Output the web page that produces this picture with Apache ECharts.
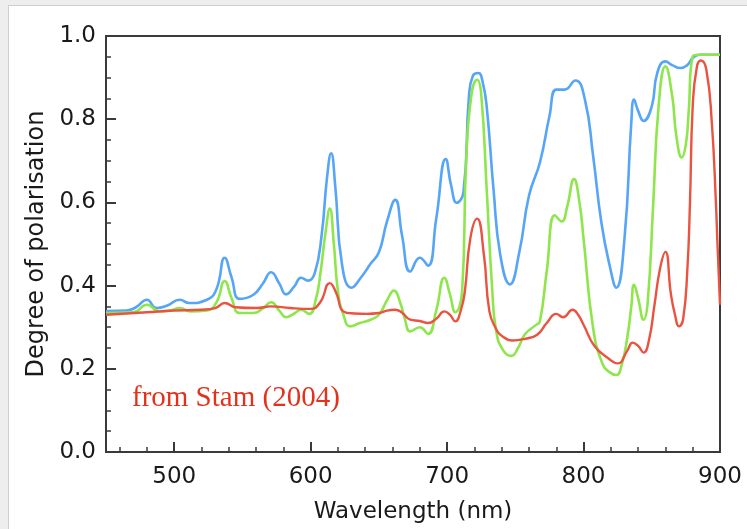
<!DOCTYPE html>
<html>
<head>
<meta charset="utf-8">
<script src="https://cdn.jsdelivr.net/npm/echarts@6/dist/echarts.min.js"></script>
<style>
  html, body { margin: 0; padding: 0; background: #eeeeee; }
  #sheet { position: absolute; left: 8px; top: 5px; width: 739px; height: 524px; background: #ffffff;
           border-left: 1px solid #cfcfcf; border-top: 1px solid #cfcfcf; }
  #chart { position: absolute; left: 0; top: 0; width: 747px; height: 529px; }
</style>
</head>
<body>
<div id="sheet"></div>
<div id="chart"></div>
<script>
// Degree of polarisation spectra (wavelength in nm)
const blueWl  = [450,465,472,480,487,495,504,511,524,531,537,542,548,558,565,571,577,582,588,593,598,603,608,612,615,618,623,630,637,644,650,656,662,667,673,680,686,692,699,703,707,712,716,719,723,726,729,734,739,746,753,760,768,775,780,786,794,801,807,813,819,824,830,835,837,840,844,850,854,860,865,871,876,880,885,900];
const blueDop = [0.339,0.340,0.348,0.366,0.346,0.352,0.366,0.358,0.366,0.392,0.467,0.420,0.368,0.378,0.405,0.432,0.405,0.379,0.398,0.419,0.412,0.430,0.520,0.660,0.718,0.640,0.450,0.395,0.420,0.453,0.480,0.555,0.606,0.520,0.434,0.467,0.448,0.560,0.704,0.640,0.599,0.625,0.855,0.905,0.911,0.890,0.831,0.632,0.473,0.403,0.482,0.616,0.696,0.807,0.871,0.871,0.893,0.847,0.712,0.553,0.450,0.395,0.513,0.792,0.847,0.820,0.796,0.831,0.911,0.939,0.930,0.923,0.930,0.947,0.955,0.955];

const greenWl  = [450,470,480,489,497,504,512,524,531,537,542,548,558,565,571,577,582,588,593,599,604,607,611,614,617,620,624,629,636,644,650,656,661,666,669,673,680,686,692,698,702,706,711,714,718,722,725,729,733,736,741,747,752,757,765,768,773,779,784,788,793,797,800,807,814,819,824,828,832,835,837,840,844,847,851,855,860,865,868,872,875,877,880,884,900];
const greenDop = [0.334,0.336,0.354,0.338,0.340,0.346,0.338,0.340,0.360,0.411,0.370,0.334,0.334,0.345,0.360,0.340,0.324,0.333,0.342,0.332,0.370,0.426,0.530,0.585,0.500,0.386,0.330,0.302,0.310,0.318,0.330,0.365,0.388,0.355,0.320,0.290,0.300,0.284,0.340,0.419,0.380,0.336,0.386,0.704,0.863,0.895,0.860,0.632,0.394,0.290,0.245,0.231,0.250,0.283,0.305,0.314,0.434,0.569,0.554,0.590,0.656,0.600,0.513,0.298,0.211,0.192,0.185,0.210,0.274,0.350,0.402,0.370,0.318,0.360,0.593,0.831,0.927,0.855,0.760,0.708,0.740,0.815,0.951,0.955,0.955];

const redWl  = [450,480,500,520,530,537,545,560,571,585,600,607,614,619,624,632,641,650,656,662,667,673,680,686,692,698,702,706,710,713,717,722,727,731,736,739,748,757,766,773,780,785,792,796,800,808,819,825,832,836,840,844,848,852,856,860,864,867,870,873,876,878,880,883,886,890,894,897,898,900];
const redDop = [0.330,0.336,0.340,0.342,0.346,0.358,0.348,0.346,0.350,0.346,0.344,0.360,0.406,0.380,0.338,0.333,0.332,0.334,0.340,0.342,0.335,0.318,0.315,0.310,0.320,0.338,0.330,0.314,0.340,0.386,0.513,0.561,0.473,0.338,0.295,0.282,0.268,0.272,0.282,0.310,0.332,0.324,0.342,0.330,0.306,0.255,0.223,0.213,0.243,0.263,0.255,0.239,0.270,0.354,0.440,0.481,0.380,0.330,0.302,0.320,0.434,0.600,0.831,0.925,0.941,0.919,0.792,0.600,0.513,0.354];

// Axis ticks
const xTickLabels = [500, 600, 700, 800, 900];
const xMinorTicks = [];
for (let v = 460; v <= 900; v += 20) xMinorTicks.push(v);

const pairs = (xs, ys) => xs.map((x, i) => [x, ys[i]]);

const axisColor = '#3a3a3a';
const textColor = '#1a1a1a';
const labelFont = { fontFamily: 'DejaVu Sans', fontSize: 23, color: textColor };

const chart = echarts.init(document.getElementById('chart'), null, { renderer: 'canvas' });
chart.setOption({
  backgroundColor: 'transparent',
  animation: false,
  grid: { left: 106, right: 27, top: 36, bottom: 74, show: true, borderColor: axisColor, borderWidth: 2, backgroundColor: 'transparent' },
  xAxis: [
    {
      type: 'value', min: 450, max: 900,
      name: 'Wavelength (nm)', nameLocation: 'middle', nameGap: 49,
      nameTextStyle: { fontFamily: 'DejaVu Sans', fontSize: 23, color: textColor },
      axisLine: { show: true, lineStyle: { color: axisColor, width: 2 } },
      axisTick: { show: true, inside: true, length: 10, lineStyle: { color: axisColor, width: 2 }, customValues: xTickLabels },
      axisLabel: Object.assign({ margin: 14, customValues: xTickLabels }, labelFont),
      splitLine: { show: false }
    },
    {
      type: 'value', min: 450, max: 900, position: 'bottom',
      axisLine: { show: false },
      axisTick: { show: true, inside: true, length: 5, lineStyle: { color: axisColor, width: 1.5 }, customValues: xMinorTicks },
      axisLabel: { show: false, customValues: xMinorTicks },
      splitLine: { show: false }
    }
  ],
  yAxis: {
    type: 'value', min: 0, max: 1, interval: 0.2,
    name: 'Degree of polarisation', nameLocation: 'middle', nameGap: 42, nameRotate: 90,
    nameTextStyle: { fontFamily: 'DejaVu Sans', fontSize: 24, color: textColor },
    axisLine: { show: true, lineStyle: { color: axisColor, width: 2 } },
    axisTick: { show: true, inside: true, length: 10, lineStyle: { color: axisColor, width: 2 } },
    minorTick: { show: true, splitNumber: 4, length: 5, lineStyle: { color: axisColor, width: 1.5 } },
    axisLabel: Object.assign({ margin: 10, formatter: v => v.toFixed(1) }, labelFont),
    splitLine: { show: false }
  },
  series: [
    { type: 'line', data: pairs(blueWl, blueDop), showSymbol: false, smooth: 0.5,
      lineStyle: { color: '#56a5f7', width: 2.6 }, z: 2 },
    { type: 'line', data: pairs(greenWl, greenDop), showSymbol: false, smooth: 0.5,
      lineStyle: { color: '#8ee64c', width: 2.6 }, z: 3 },
    { type: 'line', data: pairs(redWl, redDop), showSymbol: false, smooth: 0.5,
      lineStyle: { color: '#ea5340', width: 2.4 }, z: 4 }
  ],
  graphic: [
    { type: 'text', left: 132, top: 384,
      style: { text: 'from Stam (2004)', font: '29px "Liberation Serif"', fill: '#e2321c' } }
  ]
});
</script>
</body>
</html>
